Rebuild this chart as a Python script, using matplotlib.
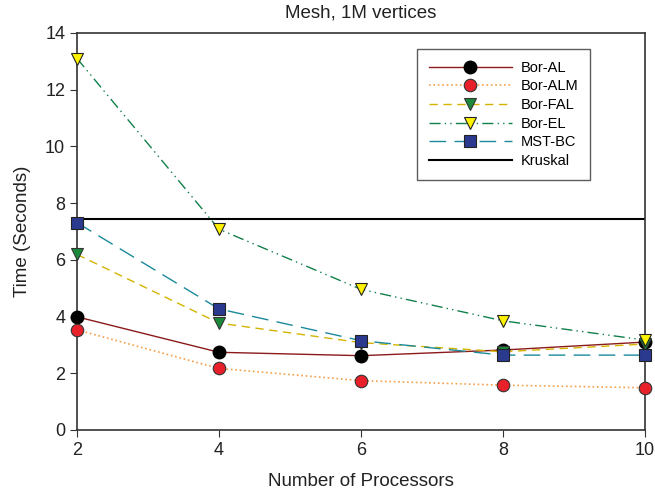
import matplotlib
matplotlib.use("Agg")
import matplotlib.pyplot as plt

plt.rcParams['font.family'] = ['Liberation Sans', 'DejaVu Sans']

procs = [2, 4, 6, 8, 10]
bor_al = [3.99, 2.74, 2.62, 2.82, 3.10]
bor_alm = [3.53, 2.17, 1.74, 1.58, 1.49]
bor_fal = [6.19, 3.77, 3.08, 2.76, 3.03]
bor_el = [13.1, 7.08, 4.96, 3.85, 3.17]
mst_bc = [7.31, 4.27, 3.15, 2.64, 2.64]
kruskal = 7.44

fig = plt.figure(figsize=(6.55, 4.94), dpi=100)
ax = fig.add_axes([0.1176, 0.1296, 0.8671, 0.8036])

ax.plot(procs, bor_al, '-', color='#8b1a1a', lw=1.0, marker='o', ms=9,
        mfc='black', mec='black', label='Bor-AL', clip_on=False, zorder=5)
ax.plot(procs, bor_alm, ':', color='#f5a04a', lw=1.2, marker='o', ms=9,
        mfc='#e8202a', mec='#333333', mew=0.8, label='Bor-ALM', clip_on=False, zorder=5)
ax.plot(procs, bor_fal, '--', color='#d4b400', lw=1.0, dashes=(6, 4), marker='v', ms=9,
        mfc='#1a8a3a', mec='#333333', mew=0.8, label='Bor-FAL', clip_on=False, zorder=5)
ax.plot(procs, bor_el, color='#11804a', lw=1.0, dashes=(8, 3, 1, 3, 1, 3), marker='v', ms=9,
        mfc='#fff200', mec='#222222', mew=0.8, label='Bor-EL', clip_on=False, zorder=5)
ax.plot(procs, mst_bc, color='#1a8a9a', lw=1.0, dashes=(12, 6), marker='s', ms=8,
        mfc='#2b3a8f', mec='#222222', mew=0.8, label='MST-BC', clip_on=False, zorder=5)
ax.axhline(kruskal, color='black', lw=1.5, label='Kruskal')

ax.set_xlim(2, 10)
ax.set_ylim(0, 14)
ax.set_xticks([2, 4, 6, 8, 10])
ax.set_yticks(range(0, 15, 2))
ax.tick_params(direction='out', length=5, labelsize=13, colors='#333333', labelcolor='#222222')
for s in ax.spines.values():
    s.set_linewidth(1.2)
    s.set_color('#333333')

ax.set_xlabel('Number of Processors', fontsize=13.5, color='#222222', labelpad=10)
ax.set_ylabel('Time (Seconds)', fontsize=13.5, color='#222222', labelpad=10)
ax.set_title('Mesh, 1M vertices', fontsize=13.5, color='#222222', pad=11)

leg = ax.legend(loc='upper left', bbox_to_anchor=(417 / 655, 1 - 49 / 494),
                bbox_transform=fig.transFigure, borderaxespad=0, fontsize=10.5,
                frameon=True, fancybox=False, edgecolor='#333333', handlelength=5.7,
                handletextpad=0.6, borderpad=0.8, labelspacing=0.32)
leg.get_frame().set_linewidth(1.0)

fig.savefig('out.png', dpi=100)
